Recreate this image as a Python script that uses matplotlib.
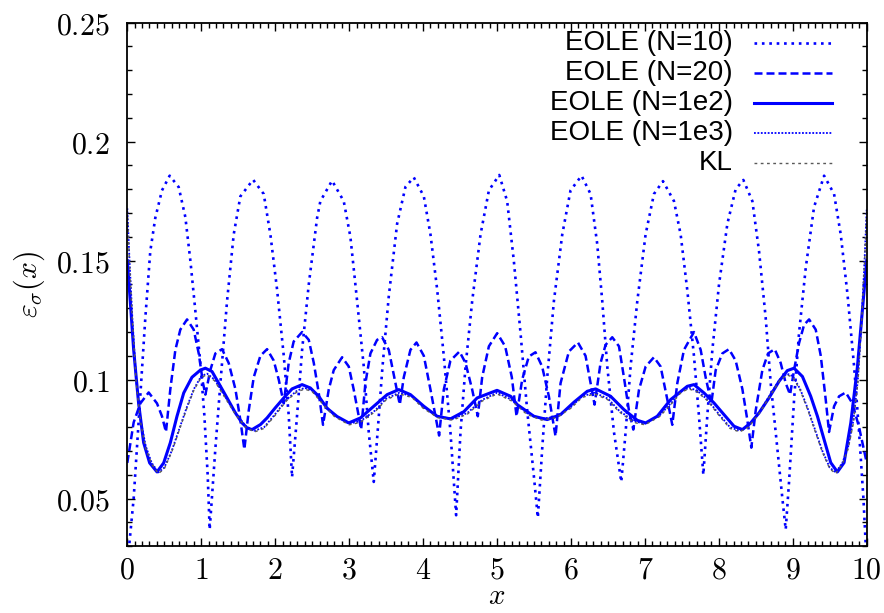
import matplotlib
matplotlib.use('Agg')
import matplotlib.pyplot as plt
from matplotlib.ticker import MultipleLocator, FuncFormatter

plt.rcParams['mathtext.fontset'] = 'cm'

# EOLE N=10
n10_x = [0.0, 0.086, 0.165, 0.244, 0.311, 0.379, 0.469, 0.573, 0.695, 0.785, 0.853, 0.920, 0.988, 1.042, 1.087, 1.114,
         1.191, 1.259, 1.349, 1.439, 1.529, 1.701, 1.845, 1.935, 2.025, 2.116, 2.183, 2.228,
         2.296, 2.364, 2.454, 2.567, 2.611, 2.769, 2.927, 3.017, 3.108, 3.198, 3.265, 3.333,
         3.39, 3.45, 3.536, 3.649, 3.762, 3.874, 4.01, 4.10, 4.19, 4.28, 4.37, 4.447,
         4.506, 4.574, 4.664, 4.777, 4.89, 5.03, 5.137, 5.227, 5.318, 5.408, 5.498, 5.552,
         5.611, 5.679, 5.769, 5.882, 5.994, 6.143, 6.265, 6.355, 6.423, 6.491, 6.581, 6.68,
         6.739, 6.806, 6.897, 7.009, 7.122, 7.244, 7.393, 7.483, 7.573, 7.663, 7.73, 7.79,
         7.844, 7.912, 8.002, 8.115, 8.227, 8.331, 8.453, 8.543, 8.633, 8.701, 8.791, 8.859, 8.904,
         8.949, 9.017, 9.084, 9.175, 9.287, 9.423, 9.558, 9.648, 9.739, 9.829, 9.896, 9.955, 10.0]
n10_y = [0.022, 0.050, 0.088, 0.126, 0.154, 0.168, 0.1795, 0.1857, 0.1809, 0.1683, 0.150, 0.129, 0.107, 0.085, 0.060, 0.037,
         0.071, 0.0985, 0.133, 0.161, 0.177, 0.184, 0.178, 0.161, 0.138, 0.110, 0.085, 0.059,
         0.085, 0.1125, 0.140, 0.168, 0.175, 0.1836, 0.175, 0.160, 0.133, 0.1055, 0.078, 0.057,
         0.080, 0.105, 0.135, 0.1655, 0.181, 0.185, 0.177, 0.161, 0.138, 0.110, 0.078, 0.043,
         0.078, 0.1055, 0.133, 0.161, 0.1795, 0.186, 0.175, 0.150, 0.1195, 0.087, 0.0595, 0.042,
         0.071, 0.101, 0.133, 0.161, 0.1795, 0.1857, 0.178, 0.157, 0.133, 0.1055, 0.078, 0.057,
         0.078, 0.1055, 0.133, 0.161, 0.178, 0.1834, 0.175, 0.161, 0.1376, 0.110, 0.085, 0.060,
         0.085, 0.1125, 0.140, 0.1655, 0.180, 0.1839, 0.175, 0.154, 0.126, 0.0985, 0.071, 0.050, 0.037,
         0.057, 0.0916, 0.1195, 0.147, 0.1725, 0.1857, 0.178, 0.161, 0.136, 0.1055, 0.078, 0.050, 0.022]

# EOLE N=20
n20_x = [0.0, 0.086, 0.176, 0.289, 0.402, 0.469, 0.523,
         0.582, 0.65, 0.717, 0.808, 0.898, 0.966, 1.024, 1.056,
         1.123, 1.191, 1.281, 1.371, 1.462, 1.529, 1.583,
         1.642, 1.71, 1.80, 1.89, 1.98, 2.048, 2.116,
         2.183, 2.25, 2.364, 2.454, 2.522, 2.589, 2.647,
         2.724, 2.792, 2.905, 2.995, 3.062, 3.13, 3.162,
         3.22, 3.288, 3.378, 3.446, 3.536, 3.627, 3.685,
         3.739, 3.829, 3.911, 4.01, 4.10, 4.168, 4.217,
         4.28, 4.37, 4.492, 4.574, 4.664, 4.74,
         4.799, 4.89, 5.002, 5.11, 5.20, 5.264,
         5.34, 5.43, 5.52, 5.61, 5.701, 5.791,
         5.859, 5.972, 6.094, 6.197, 6.265, 6.319,
         6.4, 6.468, 6.558, 6.649, 6.716, 6.784, 6.843,
         6.92, 7.01, 7.122, 7.212, 7.303, 7.37,
         7.438, 7.528, 7.663, 7.754, 7.821, 7.898,
         7.957, 8.047, 8.137, 8.227, 8.318, 8.385, 8.439,
         8.498, 8.588, 8.665, 8.755, 8.836, 8.904, 8.963,
         9.017, 9.084, 9.152, 9.22, 9.31, 9.378, 9.445, 9.49,
         9.558, 9.626, 9.716, 9.806, 9.896, 10.0]
n20_y = [0.065, 0.082, 0.090, 0.0946, 0.090, 0.0846, 0.078,
         0.096, 0.1125, 0.121, 0.1253, 0.121, 0.111, 0.0985, 0.0937,
         0.104, 0.111, 0.1128, 0.107, 0.096, 0.083, 0.0707,
         0.087, 0.101, 0.110, 0.1128, 0.108, 0.100, 0.090,
         0.107, 0.116, 0.120, 0.1167, 0.107, 0.0944, 0.081,
         0.0958, 0.104, 0.1094, 0.1055, 0.0958, 0.0846, 0.079,
         0.0985, 0.111, 0.1167, 0.1178, 0.1125, 0.0985, 0.0895,
         0.101, 0.1125, 0.1156, 0.110, 0.0958, 0.0846, 0.0765,
         0.0958, 0.108, 0.1118, 0.107, 0.0958, 0.0846,
         0.101, 0.114, 0.1195, 0.114, 0.101, 0.0846,
         0.100, 0.1097, 0.1115, 0.1055, 0.093, 0.0762,
         0.0985, 0.1118, 0.1156, 0.110, 0.0985, 0.0895,
         0.107, 0.1146, 0.1178, 0.114, 0.101, 0.087, 0.079,
         0.0958, 0.1055, 0.1094, 0.1055, 0.0916, 0.081,
         0.0985, 0.1125, 0.120, 0.1125, 0.101, 0.090,
         0.104, 0.111, 0.1128, 0.108, 0.096, 0.083, 0.0714,
         0.087, 0.104, 0.111, 0.1128, 0.107, 0.0985, 0.0937,
         0.104, 0.1153, 0.123, 0.1253, 0.121, 0.110, 0.0916, 0.078,
         0.0888, 0.093, 0.0946, 0.090, 0.080, 0.065]

# EOLE N=1e2
n1e2_x = [0.0, 0.04, 0.086, 0.153, 0.221, 0.302, 0.402, 0.492, 0.582, 0.672, 0.763, 0.875, 0.988, 1.056,
          1.146, 1.236, 1.349, 1.462, 1.552, 1.62, 1.687, 1.80, 1.89, 2.0, 2.116, 2.228, 2.364, 2.475,
          2.589, 2.70, 2.837, 2.995, 3.153, 3.333, 3.514, 3.671, 3.829, 4.01, 4.19, 4.37, 4.55, 4.731,
          5.0, 5.183, 5.273, 5.498, 5.679, 5.859, 6.04, 6.22, 6.333, 6.536, 6.716, 6.897, 7.01, 7.167,
          7.348, 7.573, 7.664, 7.799, 7.934, 8.069, 8.205, 8.318, 8.43, 8.543, 8.678, 8.814, 8.926,
          9.017, 9.13, 9.242, 9.333, 9.423, 9.513, 9.603, 9.693, 9.784, 9.874, 9.941, 10.0]
n1e2_y = [0.150, 0.133, 0.1125, 0.090, 0.0735, 0.065, 0.0612, 0.065, 0.0735, 0.0846, 0.0944, 0.101, 0.104, 0.1048,
          0.1034, 0.0985, 0.0923, 0.086, 0.0818, 0.0797, 0.079, 0.0811, 0.0839, 0.0881, 0.0923, 0.0961, 0.0979, 0.0965,
          0.093, 0.088, 0.0845, 0.0818, 0.0839, 0.0888, 0.0937, 0.0958, 0.0937, 0.0888, 0.0846, 0.0835, 0.0865, 0.0923,
          0.0955, 0.093, 0.0895, 0.0846, 0.0832, 0.0853, 0.0905, 0.0951, 0.0961, 0.093, 0.0874, 0.0829, 0.0818, 0.0846,
          0.0916, 0.0972, 0.0979, 0.0944, 0.0902, 0.0853, 0.0804, 0.079, 0.0818, 0.086, 0.0923, 0.0993, 0.1038,
          0.1048, 0.1013, 0.093, 0.0846, 0.0748, 0.0651, 0.0612, 0.0651, 0.0818, 0.1055, 0.1292, 0.150]

# EOLE N=1e3 and KL (almost on top of each other)
n1e3_x = [0.0, 0.03, 0.07, 0.12, 0.18, 0.25, 0.33, 0.42, 0.50, 0.60, 0.70, 0.80, 0.90, 1.0, 1.08, 1.18,
          1.30, 1.45, 1.60, 1.72, 1.85, 2.0, 2.15, 2.3, 2.4, 2.5, 2.65, 2.8, 3.0, 3.15, 3.35, 3.5, 3.68,
          3.85, 4.0, 4.2, 4.4, 4.6, 4.8, 5.0, 5.2, 5.4, 5.6, 5.8, 6.0, 6.15, 6.32, 6.5, 6.65, 6.85, 7.0,
          7.2, 7.35, 7.5, 7.6, 7.7, 7.85, 8.0, 8.15, 8.28, 8.4, 8.55, 8.7, 8.82, 8.92, 9.0, 9.1, 9.2,
          9.3, 9.4, 9.5, 9.58, 9.67, 9.75, 9.82, 9.88, 9.93, 9.97, 10.0]
n1e3_y = [0.172, 0.150, 0.125, 0.100, 0.083, 0.072, 0.065, 0.061, 0.063, 0.070, 0.079, 0.088, 0.096, 0.1015, 0.1025, 0.100,
          0.094, 0.0865, 0.0805, 0.0785, 0.080, 0.0855, 0.0915, 0.0955, 0.0965, 0.0955, 0.090, 0.085, 0.0815, 0.0825, 0.087, 0.092, 0.0945,
          0.093, 0.0885, 0.0845, 0.0835, 0.086, 0.0915, 0.0945, 0.0915, 0.086, 0.0835, 0.0845, 0.0885, 0.093, 0.0945, 0.092, 0.087, 0.0825, 0.0815,
          0.085, 0.090, 0.0955, 0.0965, 0.0955, 0.0915, 0.0855, 0.080, 0.0785, 0.0805, 0.0865, 0.094, 0.100, 0.1025, 0.1015, 0.096, 0.088,
          0.079, 0.070, 0.063, 0.061, 0.065, 0.072, 0.083, 0.100, 0.125, 0.150, 0.172]
kl_y = [0.171, 0.149, 0.124, 0.099, 0.082, 0.071, 0.0645, 0.0605, 0.0625, 0.0695, 0.0785, 0.0875, 0.0955, 0.101, 0.102, 0.0995,
        0.0935, 0.086, 0.080, 0.078, 0.0795, 0.085, 0.091, 0.095, 0.096, 0.095, 0.0895, 0.0845, 0.081, 0.082, 0.0865, 0.0915, 0.094,
        0.0925, 0.088, 0.084, 0.083, 0.0855, 0.091, 0.094, 0.091, 0.0855, 0.083, 0.084, 0.088, 0.0925, 0.094, 0.0915, 0.0865, 0.082, 0.081,
        0.0845, 0.0895, 0.095, 0.096, 0.095, 0.091, 0.085, 0.0795, 0.078, 0.080, 0.086, 0.0935, 0.0995, 0.102, 0.101, 0.0955, 0.0875,
        0.0785, 0.0695, 0.0625, 0.0605, 0.0645, 0.071, 0.082, 0.099, 0.124, 0.149, 0.171]

labels = ['EOLE (N=10)', 'EOLE (N=20)', 'EOLE (N=1e2)', 'EOLE (N=1e3)', 'KL']

fig = plt.figure(figsize=(8.84, 6.13), dpi=100)
ax = fig.add_axes([0.144, 0.109, 0.8365, 0.854])

blue = '#0000ff'
styles = [
    dict(color=blue, lw=1.9, ls=(0, (1, 1.8))),
    dict(color=blue, lw=1.8, ls=(0, (3.2, 1.6))),
    dict(color=blue, lw=2.2, ls='-'),
    dict(color=blue, lw=1.3, ls=(0, (1, 0.9))),
    dict(color='0.35', lw=1.0, ls=(0, (2, 2.5))),
]
series = [(n10_x, n10_y), (n20_x, n20_y), (n1e2_x, n1e2_y), (n1e3_x, n1e3_y), (n1e3_x, kl_y)]
for (xs, ys), st in zip(series, styles):
    ax.plot(xs, ys, **st)

ax.set_xlim(0, 10)
ax.set_ylim(0.03, 0.25)
ax.xaxis.set_major_locator(MultipleLocator(1))
ax.xaxis.set_minor_locator(MultipleLocator(0.1))
ax.yaxis.set_major_locator(MultipleLocator(0.05))
ax.yaxis.set_minor_locator(MultipleLocator(0.01))
fmt = FuncFormatter(lambda v, p: '$%g$' % round(v, 3))
ax.xaxis.set_major_formatter(fmt)
ax.yaxis.set_major_formatter(fmt)
ax.tick_params(which='both', direction='in', top=True, right=True, labelsize=21.5, width=1)
ax.tick_params(which='major', length=6)
ax.tick_params(which='minor', length=3.5)
ax.tick_params(axis='y', pad=13)
ax.tick_params(axis='x', pad=7)
for s in ax.spines.values():
    s.set_linewidth(1.3)

ax.set_xlabel('$x$', fontsize=21, labelpad=-2)
ax.set_ylabel(r'$\varepsilon_\sigma(x)$', fontsize=21.5, labelpad=6)

# key in gnuplot style: text right-aligned, sample line on the right
rows = [0.961, 0.904, 0.847, 0.789, 0.732]
for lab, st, yy in zip(labels, styles, rows):
    ax.text(0.819, yy, lab, transform=ax.transAxes, ha='right', va='center',
            fontsize=20, family='Liberation Sans')
    ax.plot([0.847, 0.953], [yy, yy], transform=ax.transAxes, **st)

fig.savefig('out.png', dpi=100)
